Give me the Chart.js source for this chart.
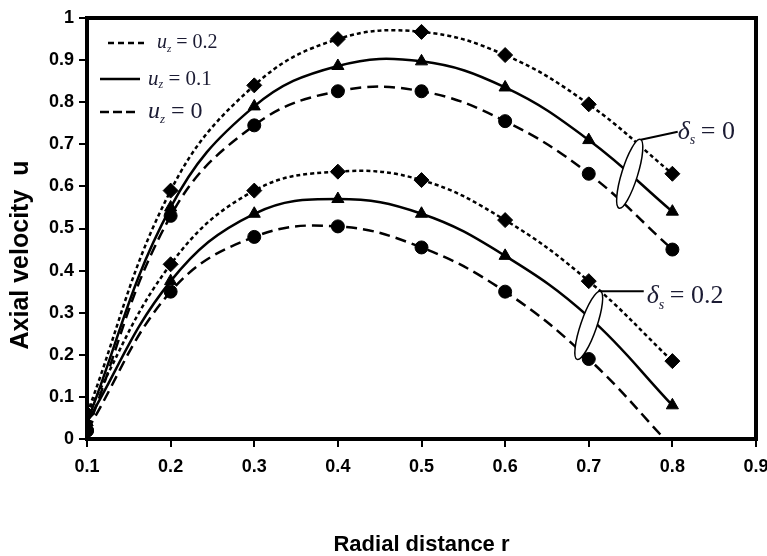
<!DOCTYPE html>
<html>
<head>
<meta charset="utf-8">
<script src="https://cdn.jsdelivr.net/npm/chart.js@4.4.1/dist/chart.umd.min.js"></script>
<style>
  html, body { margin: 0; padding: 0; background: #fff; }
  #wrap { width: 767px; height: 556px; }
</style>
</head>
<body>
<div id="wrap"><canvas id="velChart"></canvas></div>
<script>
// radial positions
var radius = [0.1, 0.2, 0.3, 0.4, 0.5, 0.6, 0.7, 0.8];

// delta_s = 0
var d0_uz02 = [0.06, 0.59, 0.84, 0.95, 0.967, 0.912, 0.795, 0.63];
var d0_uz01 = [0.04, 0.55, 0.79, 0.886, 0.897, 0.835, 0.71, 0.54];
var d0_uz00 = [0.02, 0.53, 0.745, 0.826, 0.826, 0.755, 0.63, 0.45];

// delta_s = 0.2
var d2_uz02 = [0.06, 0.415, 0.59, 0.635, 0.615, 0.52, 0.375, 0.185];
var d2_uz01 = [0.04, 0.375, 0.535, 0.57, 0.535, 0.435, 0.29, 0.08];
var d2_uz00 = [0.02, 0.35, 0.48, 0.505, 0.455, 0.35, 0.19, -0.02];

var xTicks = [0.1, 0.2, 0.3, 0.4, 0.5, 0.6, 0.7, 0.8, 0.9];
var yTicks = [0, 0.1, 0.2, 0.3, 0.4, 0.5, 0.6, 0.7, 0.8, 0.9, 1];

var tickFont = { family: '"Liberation Sans"', size: 18, weight: 'bold' };

function pts(arr) {
  return arr.map(function (v, i) { return { x: radius[i], y: v }; });
}

function serie(arr, style, dash, size) {
  return {
    data: pts(arr),
    borderColor: '#000',
    backgroundColor: '#000',
    borderWidth: 2.5,
    borderDash: dash,
    pointStyle: style,
    pointRadius: size,
    pointBorderWidth: 1,
    tension: 0.4,
    fill: false
  };
}

var shortDash = [4, 3];
var longDash = [11, 6];

// frame, legend, ellipses, delta labels and y title
var decorPlugin = {
  id: 'decor',
  afterDatasetsDraw: function (chart) {
    var ctx = chart.ctx;
    var a = chart.chartArea;
    var xs = chart.scales.x, ys = chart.scales.y;
    ctx.save();

    ctx.strokeStyle = '#000';
    ctx.lineWidth = 4;
    ctx.setLineDash([]);
    ctx.strokeRect(a.left, a.top, a.right - a.left, a.bottom - a.top);

    function legRow(x1, x2, y, dash, label, size, tx) {
      ctx.beginPath();
      ctx.setLineDash(dash);
      ctx.lineWidth = 2.5;
      ctx.strokeStyle = '#000';
      ctx.moveTo(x1, y); ctx.lineTo(x2, y); ctx.stroke();
      ctx.setLineDash([]);
      ctx.fillStyle = '#1b1b33';
      ctx.textBaseline = 'middle';
      ctx.font = 'italic ' + size + 'px "Liberation Serif"';
      ctx.fillText('u', tx, y);
      var w = ctx.measureText('u').width;
      ctx.font = 'italic ' + Math.round(size * 0.55) + 'px "Liberation Serif"';
      ctx.fillText('z', tx + w, y + size * 0.3);
      var w2 = ctx.measureText('z').width;
      ctx.font = size + 'px "Liberation Serif"';
      ctx.fillText(' = ' + label, tx + w + w2, y);
    }
    legRow(108, 147, 43, [6, 4], '0.2', 20, 157);
    legRow(100, 140, 79, [], '0.1', 21, 148);
    legRow(100, 137, 112, [9, 4], '0', 24, 148);

    function ell(cx, cy, rx, ry, rot) {
      ctx.beginPath();
      ctx.setLineDash([]);
      ctx.ellipse(cx, cy, rx, ry, rot, 0, Math.PI * 2);
      ctx.fillStyle = '#fff';
      ctx.fill();
      ctx.lineWidth = 1.5;
      ctx.strokeStyle = '#000';
      ctx.stroke();
    }
    var e1x = xs.getPixelForValue(0.749), e1y = ys.getPixelForValue(0.63);
    var e2x = xs.getPixelForValue(0.7), e2y = ys.getPixelForValue(0.27);
    ell(e1x, e1y, 8, 36, 0.3);
    ell(e2x, e2y, 8, 36, 0.33);

    ctx.lineWidth = 2;
    ctx.beginPath();
    ctx.moveTo(e1x + 11, e1y - 34); ctx.lineTo(e1x + 48, e1y - 42); ctx.stroke();
    ctx.beginPath();
    ctx.moveTo(e2x + 12, e2y - 34); ctx.lineTo(e2x + 55, e2y - 34); ctx.stroke();

    function delta(x, y, label) {
      ctx.fillStyle = '#1b1b33';
      ctx.textBaseline = 'middle';
      ctx.font = 'italic 26px "Liberation Serif"';
      ctx.fillText('\u03B4', x, y);
      var w = ctx.measureText('\u03B4').width;
      ctx.font = 'italic 14px "Liberation Serif"';
      ctx.fillText('s', x + w, y + 9);
      var w2 = ctx.measureText('s').width;
      ctx.font = '26px "Liberation Serif"';
      ctx.fillText(' = ' + label, x + w + w2 - 1, y);
    }
    delta(e1x + 48, e1y - 42, '0');
    delta(e2x + 58, e2y - 29, '0.2');

    // y axis title
    ctx.translate(21, 255);
    ctx.rotate(-Math.PI / 2);
    ctx.fillStyle = '#000';
    ctx.textAlign = 'center';
    ctx.textBaseline = 'middle';
    ctx.font = 'bold 25px "Liberation Sans"';
    ctx.fillText('Axial velocity  u', 0, 0);

    ctx.restore();
  }
};

var chart = new Chart(document.getElementById('velChart'), {
  type: 'line',
  data: {
    datasets: [
      serie(d0_uz02, 'rectRot', shortDash, 7.5),
      serie(d0_uz01, 'triangle', [], 7),
      serie(d0_uz00, 'circle', longDash, 6.5),
      serie(d2_uz02, 'rectRot', shortDash, 7.5),
      serie(d2_uz01, 'triangle', [], 7),
      serie(d2_uz00, 'circle', longDash, [6.5, 6.5, 6.5, 6.5, 6.5, 6.5, 6.5, 0])
    ]
  },
  options: {
    responsive: true,
    maintainAspectRatio: false,
    animation: false,
    layout: { padding: { top: 18, right: 11, left: 0, bottom: 0 } },
    plugins: {
      legend: { display: false },
      tooltip: { enabled: false }
    },
    scales: {
      x: {
        type: 'linear',
        min: 0.1,
        max: 0.9,
        afterBuildTicks: function (s) { s.ticks = xTicks.map(function (v) { return { value: v }; }); },
        afterFit: function (s) { s.height = 556 - 439; s.paddingRight = 0; },
        grid: { drawOnChartArea: false, drawTicks: true, tickLength: 8, color: '#000', lineWidth: 2 },
        border: { display: true, color: '#000', width: 4 },
        ticks: {
          color: '#000',
          padding: 9,
          maxRotation: 0,
          font: tickFont,
          callback: function (v) { return String(Math.round(v * 10) / 10); }
        },
        title: {
          display: true,
          text: 'Radial distance r',
          color: '#000',
          font: { family: '"Liberation Sans"', size: 22, weight: 'bold' },
          padding: { top: 0, bottom: -2 }
        }
      },
      y: {
        min: 0,
        max: 1,
        afterBuildTicks: function (s) { s.ticks = yTicks.map(function (v) { return { value: v }; }); },
        afterFit: function (s) { s.width = 87; },
        grid: { drawOnChartArea: false, drawTicks: true, tickLength: 8, color: '#000', lineWidth: 2 },
        border: { display: true, color: '#000', width: 4 },
        ticks: {
          color: '#000',
          padding: 5,
          font: tickFont,
          callback: function (v) { return String(Math.round(v * 10) / 10); }
        },
        title: { display: false }
      }
    }
  },
  plugins: [decorPlugin]
});
</script>
</body>
</html>
